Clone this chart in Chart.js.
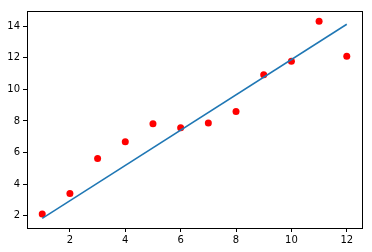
<!DOCTYPE html>
<html>
<head>
<meta charset="utf-8">
<script src="https://cdn.jsdelivr.net/npm/chart.js@4/dist/chart.umd.min.js"></script>
<style>
  html, body { margin: 0; padding: 0; background: #fff; }
  #wrap { width: 372px; height: 252px; }
</style>
</head>
<body>
<div id="wrap"><canvas id="chart" width="372" height="252"></canvas></div>
<script>
const xValues = [1, 2, 3, 4, 5, 6, 7, 8, 9, 10, 11, 12];
const yValues = [2.1, 3.4, 5.62, 6.69, 7.82, 7.57, 7.88, 8.6, 10.93, 11.79, 14.32, 12.1];
const fitX = [1, 12];
const fitY = [1.83, 14.13];
const xTicks = [2, 4, 6, 8, 10, 12];
const yTicks = [2, 4, 6, 8, 10, 12, 14];

const frame = {
  id: "frame",
  afterDraw(chart) {
    const { ctx, chartArea: a } = chart;
    ctx.save();
    ctx.strokeStyle = "#000";
    ctx.lineWidth = 1;
    ctx.strokeRect(Math.round(a.left) + 0.5, Math.round(a.top) + 0.5,
      Math.round(a.right - a.left), Math.round(a.bottom - a.top));
    ctx.restore();
  },
};

const tickFont = { family: "DejaVu Sans", size: 10 };

new Chart(document.getElementById("chart"), {
  type: "scatter",
  data: {
    datasets: [
      {
        type: "line",
        data: fitX.map((x, i) => ({ x, y: fitY[i] })),
        borderColor: "#1f77b4",
        borderWidth: 1.5,
        pointRadius: 0,
        fill: false,
      },
      {
        data: xValues.map((x, i) => ({ x, y: yValues[i] })),
        backgroundColor: "#ff0000",
        borderWidth: 0,
        pointRadius: 3.5,
      },
    ],
  },
  options: {
    responsive: false,
    animation: false,
    layout: { padding: { top: 11, right: 10, left: 0, bottom: 0 } },
    plugins: { legend: { display: false }, tooltip: { enabled: false } },
    scales: {
      x: {
        type: "linear",
        min: 0.45,
        max: 12.55,
        afterBuildTicks: (s) => { s.ticks = xTicks.map((v) => ({ value: v })); },
        afterFit: (s) => { s.height = 24; },
        ticks: { font: tickFont, color: "#000", padding: 2, maxRotation: 0 },
        grid: { drawOnChartArea: false, tickLength: 4, color: "#000" },
        border: { color: "#000" },
      },
      y: {
        type: "linear",
        min: 1.22,
        max: 14.97,
        afterBuildTicks: (s) => { s.ticks = yTicks.map((v) => ({ value: v })); },
        afterFit: (s) => { s.width = 27; },
        ticks: { font: tickFont, color: "#000", padding: 3 },
        grid: { drawOnChartArea: false, tickLength: 4, color: "#000" },
        border: { color: "#000" },
      },
    },
  },
  plugins: [frame],
});
</script>
</body>
</html>
